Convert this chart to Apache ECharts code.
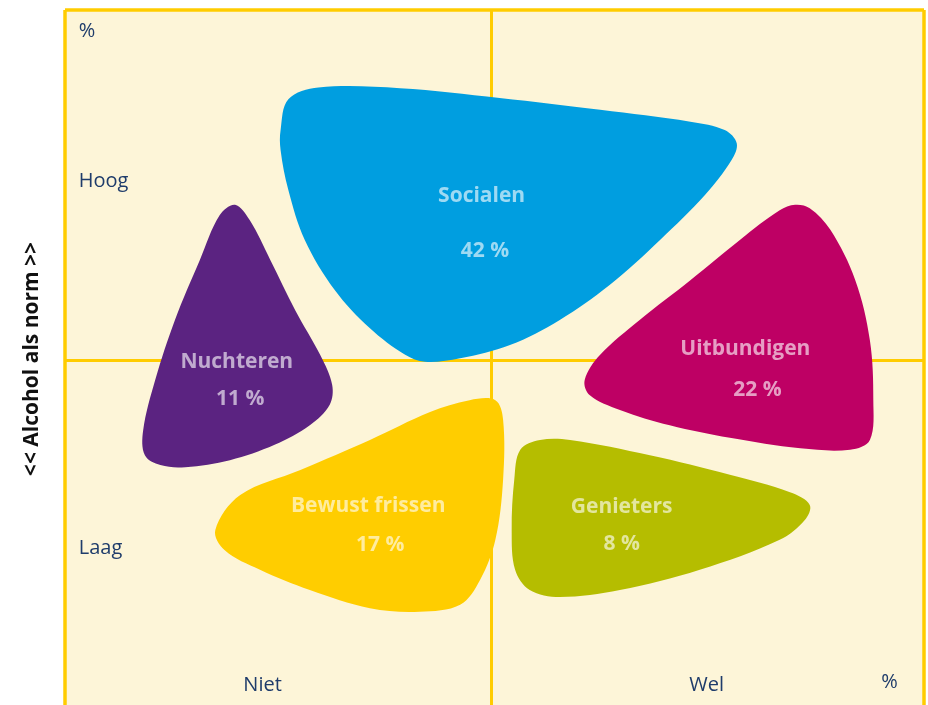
<!DOCTYPE html>
<html>
<head>
<meta charset="utf-8">
<script src="https://cdn.jsdelivr.net/npm/echarts@6/dist/echarts.min.js"></script>
<style>html,body{margin:0;padding:0;background:#fff}#chart{width:928px;height:705px}</style>
</head>
<body>
<div id="chart"></div>
<script>
// Segment names and shares
const segments = ['Socialen', 'Nuchteren', 'Uitbundigen', 'Bewust frissen', 'Genieters'];
const shares = [42, 11, 22, 17, 8];

// Quadrant tick labels
const xTickLabels = ['Niet', 'Wel'];
const yTickLabels = ['Laag', 'Hoog'];
const axisTitle = '<< Alcohol als norm >>';
const unitLabel = '%';

// Quadrant split values and frame edges (data units, axis 0–100)
const midX = 49.65;
const midY = 49.8;
const frameX = [0, 100];
const frameTop = 100;

// Blob outlines in data units (x: 0–100, y: 0–100)
const socialenOutline = [[25.1,82.8],[26.0,87.2],[29.5,88.9],[39.0,88.8],[50.6,87.4],[62.3,85.7],[72.8,84.0],[76.8,82.8],[78.2,80.9],[77.6,78.5],[74.5,73.5],[69.3,67.1],[63.4,60.6],[57.6,55.6],[51.8,52.0],[46.0,50.1],[41.9,49.6],[39.6,50.6],[35.5,54.4],[31.4,59.9],[27.9,67.1],[26.0,74.2],[25.1,79.9]];
const nuchterenOutline = [[19.8,72.1],[21.5,69.9],[23.9,64.2],[26.8,57.0],[29.7,50.6],[31.1,46.3],[30.8,43.4],[28.5,40.5],[24.4,37.7],[19.2,35.5],[14.0,34.5],[11.1,34.8],[9.3,36.2],[9.1,39.8],[10.5,47.0],[12.8,55.6],[15.7,64.2],[18.0,70.6]];
const uitbundigenOutline = [[85.0,72.1],[86.7,71.6],[89.1,68.5],[92.0,61.3],[93.7,52.7],[94.1,44.1],[93.7,38.4],[91.4,37.0],[85.6,37.2],[77.4,38.7],[70.4,40.5],[64.6,42.7],[61.1,44.8],[60.5,47.0],[62.3,50.6],[66.9,55.6],[72.8,61.3],[78.6,67.1],[83.2,71.3]];
const bewustOutline = [[17.5,25.5],[20.4,30.5],[27.4,34.1],[35.5,38.4],[42.5,42.4],[47.1,44.1],[50.1,44.1],[51.0,41.3],[51.0,32.7],[50.1,24.1],[48.3,18.3],[46.0,14.8],[41.3,13.8],[35.5,14.3],[28.5,16.9],[22.7,19.8],[18.6,22.6]];
const genietersOutline = [[52.3,32.7],[53.0,37.0],[55.3,38.4],[58.8,38.4],[68.1,36.2],[77.4,33.4],[84.4,30.9],[86.7,29.1],[86.1,26.9],[83.2,24.1],[73.9,19.8],[64.6,16.9],[57.6,15.9],[54.1,16.9],[52.4,19.8],[52.0,25.5]];
const outlines = [socialenOutline, nuchterenOutline, uitbundigenOutline, bewustOutline, genietersOutline];

// Layout: label anchors (data units)
const nameAnchors = [[48.5,73.4],[20.0,49.6],[79.2,51.5],[35.3,29.0],[64.8,28.8]];
const pctAnchors = [[48.9,65.5],[20.4,44.2],[80.6,45.5],[36.7,23.4],[64.8,23.5]];
const tickTextAnchors = [[23.0,3.3],[74.7,3.3],[1.6,22.9],[1.6,75.4],[1.6,96.9],[96.0,3.7]];

const blobColors = ['#009ee0', '#5b2381', '#be0064', '#ffcd00', '#b5bd00'];
const labelColor = 'rgba(255,255,255,0.62)';
const textDark = '#1f3c6b';
const lineYellow = '#ffcc00';

const chart = echarts.init(document.getElementById('chart'), null, {renderer: 'canvas'});

const tickTexts = [
  {text: xTickLabels[0], align: 'center'},
  {text: xTickLabels[1], align: 'center'},
  {text: yTickLabels[0], align: 'left'},
  {text: yTickLabels[1], align: 'left'},
  {text: unitLabel, align: 'left'},
  {text: unitLabel, align: 'center'}
];

const option = {
  animation: false,
  grid: {
    show: true, left: 65, right: 4, top: 10, height: 698,
    outerBoundsMode: 'none', containLabel: false,
    backgroundColor: '#fdf5d8', borderWidth: 0
  },
  xAxis: {type: 'value', min: 0, max: 100, show: false},
  yAxis: {
    type: 'value', min: 0, max: 100,
    name: axisTitle, nameLocation: 'middle', nameRotate: 90, nameGap: 22,
    nameTextStyle: {fontFamily: 'Open Sans', fontWeight: 'bold', fontSize: 21, color: '#111'},
    axisLine: {show: false}, axisTick: {show: false}, axisLabel: {show: false}, splitLine: {show: false}
  },
  series: [
    {
      type: 'line', data: [], z: 1, silent: true,
      markLine: {
        z: 1, silent: true, symbol: 'none', label: {show: false},
        lineStyle: {color: lineYellow, width: 3, type: 'solid'},
        data: [{xAxis: midX}, {yAxis: midY}]
      }
    },
    {
      type: 'line', data: [], z: 5, silent: true,
      markLine: {
        z: 5, silent: true, symbol: 'none', label: {show: false},
        lineStyle: {color: lineYellow, width: 3.5, type: 'solid'},
        data: [
          [{coord: [frameX[0], 0]}, {coord: [frameX[0], frameTop]}],
          [{coord: [frameX[1], 0]}, {coord: [frameX[1], frameTop]}],
          [{coord: [frameX[0], frameTop]}, {coord: [frameX[1], frameTop]}]
        ]
      }
    },
    {
      type: 'custom', z: 3, silent: true,
      data: shares.map((v, i) => ({name: segments[i], value: [nameAnchors[i][0], nameAnchors[i][1], v]})),
      encode: {x: 0, y: 1},
      renderItem: function (params, api) {
        const i = params.dataIndex;
        const pts = outlines[i].map(p => api.coord(p));
        const n = api.coord(nameAnchors[i]);
        const p = api.coord(pctAnchors[i]);
        return {
          type: 'group',
          children: [
            {type: 'polygon', shape: {points: pts, smooth: 0.35}, style: {fill: blobColors[i]}},
            {type: 'text', x: n[0], y: n[1], style: {text: segments[i], fill: labelColor, fontFamily: 'Open Sans', fontWeight: 'bold', fontSize: 21, align: 'center', verticalAlign: 'middle'}},
            {type: 'text', x: p[0], y: p[1], style: {text: api.value(2) + ' %', fill: labelColor, fontFamily: 'Open Sans', fontWeight: 'bold', fontSize: 21, align: 'center', verticalAlign: 'middle'}}
          ]
        };
      }
    },
    {
      type: 'custom', z: 4, silent: true,
      data: tickTextAnchors.map(a => a.slice()),
      encode: {x: 0, y: 1},
      renderItem: function (params, api) {
        const i = params.dataIndex;
        const c = api.coord([api.value(0), api.value(1)]);
        return {
          type: 'text', x: c[0], y: c[1],
          style: {text: tickTexts[i].text, fill: textDark, fontFamily: 'Open Sans', fontSize: 20, align: tickTexts[i].align, verticalAlign: 'middle'}
        };
      }
    }
  ]
};
chart.setOption(option);
</script>
</body>
</html>
